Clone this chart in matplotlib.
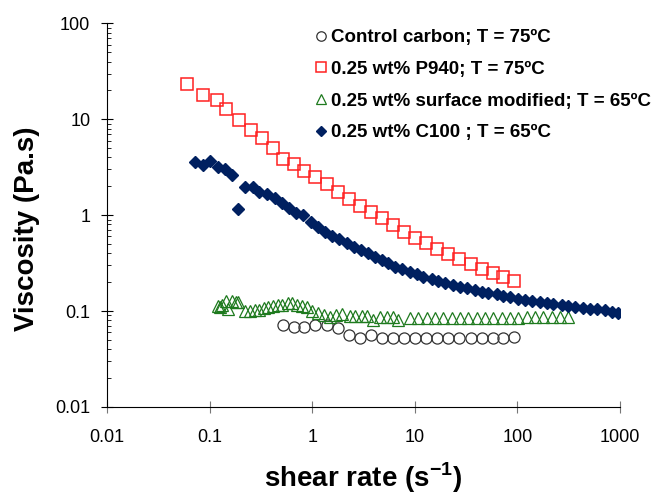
import numpy as np
from matplotlib import pyplot as plt
from matplotlib.ticker import FixedLocator, NullLocator, LogLocator

plt.rcParams['font.family'] = ['Liberation Sans', 'DejaVu Sans']
plt.rcParams['mathtext.fontset'] = 'custom'
plt.rcParams['mathtext.rm'] = 'Liberation Sans'
plt.rcParams['mathtext.bf'] = 'Liberation Sans:bold'

# control carbon, T = 75 C
control_x = [0.519, 0.665, 0.832, 1.065, 1.39, 1.78, 2.28, 2.92, 3.74, 4.79, 6.13,
             7.85, 10.0, 12.9, 16.4, 21.1, 27.0, 35.3, 45.2, 57.8, 72.4, 92.6]
control_y = [0.071, 0.068, 0.068, 0.071, 0.071, 0.066, 0.056, 0.052, 0.056, 0.053, 0.053,
             0.053, 0.053, 0.053, 0.053, 0.053, 0.053, 0.053, 0.053, 0.053, 0.053, 0.054]

# 0.25 wt% P940, T = 75 C
p940_x = [0.060, 0.086, 0.118, 0.145, 0.194, 0.254, 0.324, 0.415, 0.519, 0.665,
          0.832, 1.065, 1.39, 1.78, 2.28, 2.92, 3.74, 4.79, 6.13, 7.85,
          10.0, 12.9, 16.4, 21.1, 27.0, 35.3, 45.2, 57.8, 72.4, 92.6]
p940_y = [23.2, 17.8, 15.8, 12.7, 9.77, 7.68, 6.34, 4.99, 3.83, 3.40,
          2.87, 2.49, 2.10, 1.74, 1.47, 1.24, 1.07, 0.93, 0.787, 0.665,
          0.575, 0.511, 0.442, 0.393, 0.348, 0.309, 0.274, 0.249, 0.226, 0.205]

# 0.25 wt% surface modified, T = 65 C
surf_x = [0.121, 0.126, 0.132, 0.1445, 0.151, 0.165, 0.181, 0.189, 0.221, 0.248,
          0.277, 0.303, 0.339, 0.371, 0.415, 0.464, 0.508, 0.581, 0.635, 0.711,
          0.796, 0.890, 0.996, 1.139, 1.303, 1.49, 1.71, 1.95, 2.34, 2.61,
          3.06, 3.42, 3.91, 4.58, 5.36, 6.13, 6.86, 8.98, 10.7, 13.2,
          15.7, 18.8, 23.0, 27.6, 33.0, 40.4, 48.3, 57.8, 70.8, 84.7,
          101, 124, 148, 178, 217, 260, 311]
surf_y = [0.112, 0.109, 0.117, 0.126, 0.104, 0.126, 0.123, 0.123, 0.0993, 0.0993,
          0.1017, 0.1017, 0.107, 0.109, 0.112, 0.117, 0.117, 0.120, 0.120, 0.117,
          0.112, 0.109, 0.0993, 0.0947, 0.0902, 0.086, 0.0902, 0.0924, 0.088, 0.088,
          0.088, 0.088, 0.080, 0.086, 0.086, 0.086, 0.080, 0.085, 0.085, 0.084,
          0.085, 0.084, 0.085, 0.085, 0.085, 0.085, 0.085, 0.085, 0.085, 0.085,
          0.085, 0.086, 0.086, 0.086, 0.086, 0.087, 0.087]

# 0.25 wt% C100, T = 65 C
c100_x = [0.0721, 0.0863, 0.101, 0.121, 0.141, 0.165, 0.189, 0.221, 0.265, 0.303,
          0.363, 0.434, 0.508, 0.594, 0.695, 0.813, 0.973, 1.139, 1.333, 1.56,
          1.825, 2.18, 2.56, 2.99, 3.50, 4.09, 4.79, 5.48, 6.41, 7.50,
          8.98, 10.5, 12.0, 14.7, 16.8, 19.7, 23.6, 27.6, 32.3, 38.6,
          45.2, 51.7, 63.3, 72.4, 84.7, 101, 119, 139, 166, 194,
          222, 272, 311, 364, 436, 510, 597, 714, 836, 956]
c100_y = [3.56, 3.32, 3.65, 3.16, 3.01, 2.61, 1.155, 1.96, 1.96, 1.74,
          1.65, 1.50, 1.33, 1.18, 1.05, 1.00, 0.845, 0.75, 0.665, 0.604,
          0.562, 0.511, 0.464, 0.432, 0.402, 0.365, 0.340, 0.316, 0.287, 0.274,
          0.255, 0.243, 0.226, 0.215, 0.205, 0.196, 0.187, 0.178, 0.174, 0.166,
          0.158, 0.154, 0.150, 0.143, 0.140, 0.133, 0.130, 0.127, 0.124, 0.121,
          0.118, 0.115, 0.113, 0.110, 0.107, 0.105, 0.105, 0.102, 0.0976, 0.0953]

labels = ['Control carbon; T = 75ºC', '0.25 wt% P940; T = 75ºC',
          '0.25 wt% surface modified; T = 65ºC', '0.25 wt% C100 ; T = 65ºC']

x_ticks = [0.01, 0.1, 1, 10, 100, 1000]
x_tick_labels = ['0.01', '0.1', '1', '10', '100', '1000']
y_ticks = [0.01, 0.1, 1, 10, 100]
y_tick_labels = ['0.01', '0.1', '1', '10', '100']

fig = plt.figure(figsize=(6.51, 4.95), dpi=100)
ax = fig.add_axes([0.1644, 0.1778, 0.788, 0.775])

ax.plot(control_x, control_y, 'o', ms=8, mfc='none', mec='#333333', mew=0.9, label=labels[0])
ax.plot(p940_x, p940_y, 's', ms=8.5, mfc='none', mec='#FF2020', mew=1.1, label=labels[1])
ax.plot(surf_x, surf_y, '^', ms=8.5, mfc='none', mec='#1E7A1E', mew=0.9, label=labels[2])
ax.plot(c100_x, c100_y, 'D', ms=6.5, color='#002060', mec='#002060', label=labels[3])

ax.set_xscale('log')
ax.set_yscale('log')
ax.set_xlim(0.01, 1000)
ax.set_ylim(0.01, 100)

ax.xaxis.set_major_locator(FixedLocator(x_ticks))
ax.set_xticklabels(x_tick_labels)
ax.xaxis.set_minor_locator(NullLocator())
ax.yaxis.set_major_locator(FixedLocator(y_ticks))
ax.set_yticklabels(y_tick_labels)
ax.yaxis.set_minor_locator(LogLocator(base=10, subs=np.arange(2, 10)))

ax.tick_params(axis='x', which='major', direction='inout', length=8, width=0.8,
               color='#777777', labelsize=13, pad=12)
ax.tick_params(axis='y', which='major', direction='inout', length=8, width=0.8,
               labelsize=13, pad=8)
ax.tick_params(axis='y', which='minor', direction='in', length=3, width=0.6)

ax.spines['top'].set_visible(False)
ax.spines['right'].set_visible(False)
ax.spines['left'].set_linewidth(0.8)
ax.spines['bottom'].set_linewidth(0.8)

ax.set_xlabel(r'shear rate (s$^{\mathbf{-1}}$)', fontsize=20, fontweight='bold', labelpad=10)
ax.set_ylabel('Viscosity (Pa.s)', fontsize=20, fontweight='bold')
ax.yaxis.set_label_coords(-0.131, 0.465)

ax.legend(loc='upper left', bbox_to_anchor=(313.0 / 651, 1 - 29.0 / 495),
          bbox_transform=fig.transFigure, frameon=False, prop={'size': 13.5, 'weight': 'bold'},
          handlelength=0.8, handletextpad=0.15, labelspacing=0.78,
          borderpad=0, borderaxespad=0, markerscale=0.85)

plt.savefig('out.png', dpi=100)
